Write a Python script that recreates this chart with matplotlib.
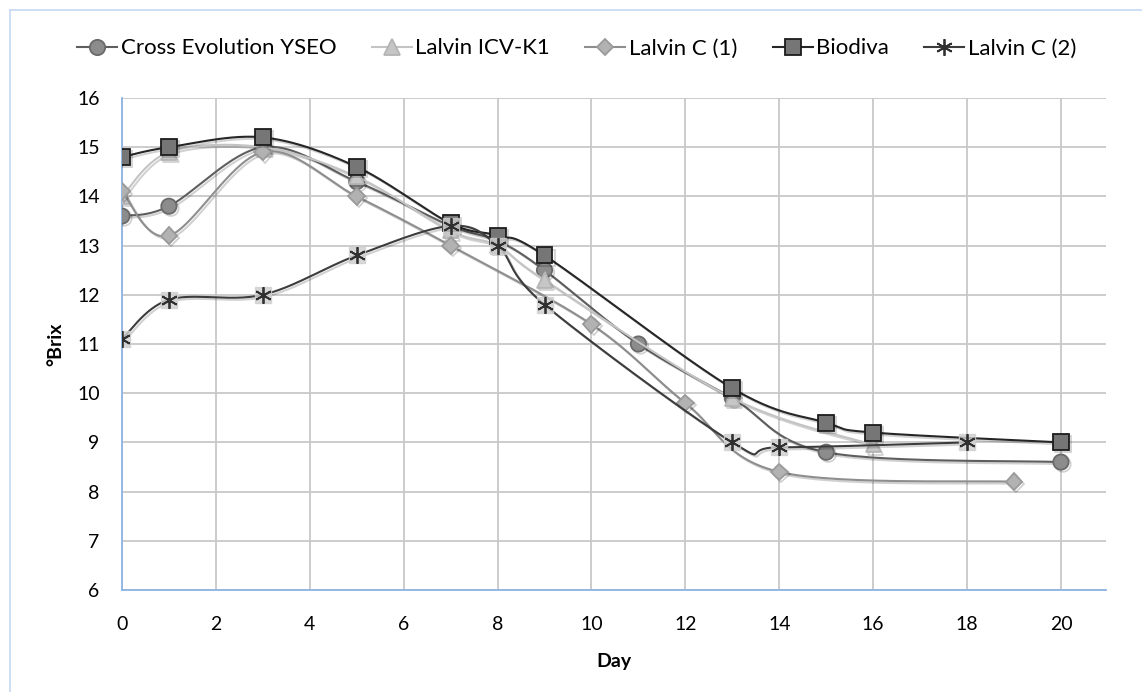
import numpy as np
import matplotlib
matplotlib.use('Agg')
import matplotlib.pyplot as plt
import matplotlib.patheffects as pe
from matplotlib.lines import Line2D

plt.rcParams['font.family'] = ['Lato', 'DejaVu Sans']

# ---- data ----
yseo_day = [0, 1, 3, 5, 7, 8, 9, 11, 13, 15, 20]
yseo_brix = [13.6, 13.8, 15.0, 14.3, 13.4, 13.1, 12.5, 11.0, 9.9, 8.8, 8.6]

icv_day = [0, 1, 3, 5, 7, 8, 9, 13, 16]
icv_brix = [14.0, 14.9, 15.0, 14.4, 13.3, 13.0, 12.3, 9.9, 8.95]

c1_day = [0, 1, 3, 5, 7, 10, 12, 14, 19]
c1_brix = [14.1, 13.2, 14.9, 14.0, 13.0, 11.4, 9.8, 8.4, 8.2]

bio_day = [0, 1, 3, 5, 7, 8, 9, 13, 15, 16, 20]
bio_brix = [14.8, 15.0, 15.2, 14.6, 13.45, 13.2, 12.8, 10.1, 9.4, 9.2, 9.0]

c2_day = [0, 1, 3, 5, 7, 8, 9, 13, 14, 18]
c2_brix = [11.1, 11.9, 12.0, 12.8, 13.4, 13.0, 11.8, 9.0, 8.9, 9.0]

x_ticks = list(range(0, 21, 2))
y_ticks = list(range(6, 17))


def smooth(xs, ys, n=30):
    # Catmull-Rom spline through the points (like Excel's smoothed line)
    p = np.column_stack([xs, ys]).astype(float)
    p = np.vstack([p[0], p, p[-1]])
    out = []
    for i in range(1, len(p) - 2):
        p0, p1, p2, p3 = p[i - 1], p[i], p[i + 1], p[i + 2]
        t = np.linspace(0, 1, n)[:, None]
        seg = 0.5 * ((2 * p1) + (-p0 + p2) * t + (2 * p0 - 5 * p1 + 4 * p2 - p3) * t ** 2
                     + (-p0 + 3 * p1 - 3 * p2 + p3) * t ** 3)
        out.append(seg)
    out = np.vstack(out)
    return out[:, 0], out[:, 1]


fig = plt.figure(figsize=(11.42, 6.92), dpi=100)
ax = fig.add_axes([0.1068, 0.1474, 0.8617, 0.711])

shadow = [pe.SimpleLineShadow(offset=(1.5, -1.5), alpha=0.18, shadow_color='k'), pe.Normal()]

series = [
    dict(x=yseo_day, y=yseo_brix, label='Cross Evolution YSEO', lc='#5e5e5e', marker='o',
         mfc='#8c8c8c', mec='#6a6a6a', ms=11),
    dict(x=icv_day, y=icv_brix, label='Lalvin ICV-K1', lc='#c4c4c4', marker='^',
         mfc='#c6c6c6', mec='#b4b4b4', ms=11),
    dict(x=c1_day, y=c1_brix, label='Lalvin C (1)', lc='#8e8e8e', marker='D',
         mfc='#b2b2b2', mec='#9a9a9a', ms=8.5),
    dict(x=bio_day, y=bio_brix, label='Biodiva', lc='#262626', marker='s',
         mfc='#767676', mec='#1c1c1c', ms=11.5),
    dict(x=c2_day, y=c2_brix, label='Lalvin C (2)', lc='#3c3c3c', marker=(6, 2, 0),
         mfc='#303030', mec='#303030', ms=12),
]

handles = []
for i, s in enumerate(series):
    sx, sy = smooth(s['x'], s['y'])
    z = 3 + i
    ax.plot(sx, sy, color=s['lc'], lw=1.5, zorder=z, path_effects=shadow)
    if s['label'] == 'Lalvin C (2)':
        ax.plot(s['x'], s['y'], ls='none', marker='s', ms=12, mfc='#cfcfcf', mec='#cfcfcf',
                alpha=0.8, zorder=z + 0.1)
        ax.plot(s['x'], s['y'], ls='none', marker=s['marker'], ms=s['ms'], mec=s['mec'],
                mew=1.3, zorder=z + 0.2)
        h = Line2D([], [], color=s['lc'], lw=1.5, marker=s['marker'], ms=s['ms'], mec=s['mec'], mew=1.3)
    else:
        ax.plot(s['x'], s['y'], ls='none', marker=s['marker'], ms=s['ms'], mfc=s['mfc'],
                mec=s['mec'], mew=1.3, zorder=z + 0.2, path_effects=shadow)
        h = Line2D([], [], color=s['lc'], lw=1.5, marker=s['marker'], ms=s['ms'],
                   mfc=s['mfc'], mec=s['mec'], mew=1.3)
    handles.append(h)

ax.set_xlim(0, 20.96)
ax.set_ylim(6, 16)
ax.set_xticks(x_ticks)
ax.set_yticks(y_ticks)
ax.grid(True, color='#c8c8c8', lw=1.3, zorder=0)
ax.set_axisbelow(True)
for sp in ['top', 'right']:
    ax.spines[sp].set_visible(False)
for sp in ['left', 'bottom']:
    ax.spines[sp].set_color('#8eb4e3')
    ax.spines[sp].set_linewidth(1.3)
ax.tick_params(length=0, labelsize=14, pad=19, colors='black')
ax.tick_params(axis='y', pad=16)
ax.set_xlabel('Day', fontsize=14, fontweight='bold', labelpad=14)
ax.set_ylabel('°Brix', fontsize=14, fontweight='bold', labelpad=9)

fig.legend(handles, [s['label'] for s in series], loc='center', bbox_to_anchor=(0.505, 0.93),
           ncol=5, frameon=False, fontsize=16, handlelength=1.8, handletextpad=0.15,
           columnspacing=1.6)

# outer chart border
fig.add_artist(Line2D([0.0088, 0.0088], [0, 0.9855], color='#c5d9f1', lw=1.2))
fig.add_artist(Line2D([0.0088, 1.0], [0.9855, 0.9855], color='#c5d9f1', lw=1.2))

fig.savefig('out.png', dpi=100)
